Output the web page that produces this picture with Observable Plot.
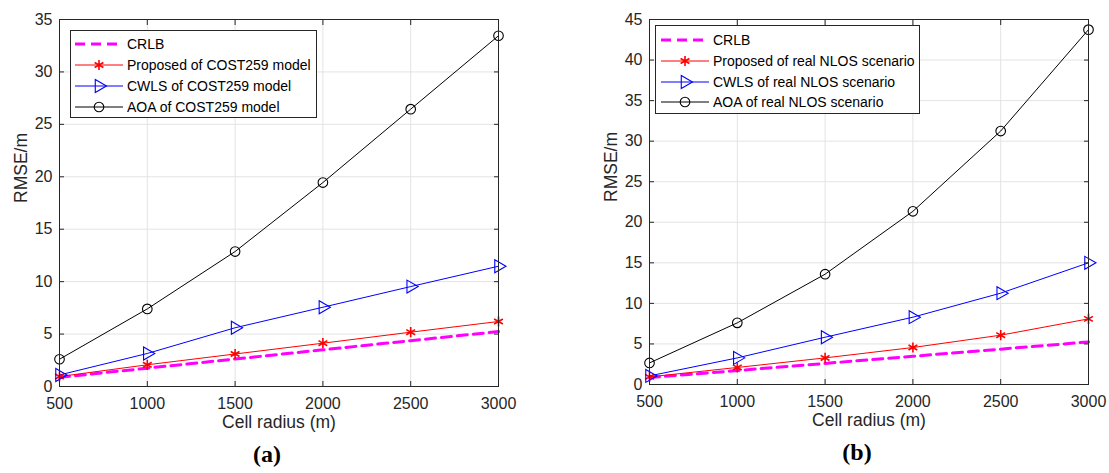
<!DOCTYPE html>
<html>
<head>
<meta charset="utf-8">
<script src="https://cdn.jsdelivr.net/npm/d3@7"></script>
<script src="https://cdn.jsdelivr.net/npm/@observablehq/plot@0.6"></script>
<style>
  html, body { margin: 0; padding: 0; background: #fff; }
  #root { position: relative; width: 1109px; height: 473px; overflow: hidden; font-family: "Liberation Sans", Arial, sans-serif; }
  .panel { position: absolute; top: 0; }
  .legend { position: absolute; background: #fff; border: 1px solid #262626; box-sizing: border-box; font-family: "Liberation Sans", Arial, sans-serif; font-size: 14px; color: #000; }
  .legend .row { position: absolute; left: 0; height: 20px; display: flex; align-items: center; white-space: nowrap; }
  .legend svg { display: block; }
</style>
</head>
<body>
<div id="root"></div>
<script>
// ---- data ----
const radius = [500, 1000, 1500, 2000, 2500, 3000];
const xTicks = [500, 1000, 1500, 2000, 2500, 3000];
const yTicksA = [0, 5, 10, 15, 20, 25, 30, 35];
const yTicksB = [0, 5, 10, 15, 20, 25, 30, 35, 40, 45];

const crlbA = [0.87, 1.75, 2.62, 3.50, 4.37, 5.24];
const propA = [0.95, 2.07, 3.10, 4.13, 5.18, 6.20];
const cwlsA = [1.10, 3.15, 5.60, 7.56, 9.53, 11.47];
const aoaA  = [2.60, 7.40, 12.87, 19.45, 26.45, 33.45];

const crlbB = [0.85, 1.72, 2.60, 3.48, 4.36, 5.25];
const propB = [0.94, 2.10, 3.28, 4.56, 6.08, 8.09];
const cwlsB = [1.06, 3.28, 5.83, 8.30, 11.26, 15.00];
const aoaB  = [2.66, 7.60, 13.60, 21.35, 31.25, 43.75];

const namesA = ["CRLB", "Proposed of COST259 model", "CWLS of COST259 model", "AOA of COST259 model"];
const namesB = ["CRLB", "Proposed of real NLOS scenario", "CWLS of real NLOS scenario", "AOA of real NLOS scenario"];
const panelTags = ["(a)", "(b)"];

// ---- styles ----
const styles = [
  {color: "#ff00ff", width: 3, dash: "10,6", symbol: null},
  {color: "#ff0000", width: 1, dash: null, symbol: "asterisk"},
  {color: "#0000ff", width: 1, dash: null, symbol: "triangle"},
  {color: "#000000", width: 1, dash: null, symbol: "circle"}
];

function toRows(vals) {
  return radius.map((r, i) => ({r, v: vals[i]}));
}

function makePanel({series, yMax, yTicks, tag, width, ml, mr, mt, mb}) {
  const marks = [
    Plot.gridX(xTicks, {stroke: "#e3e3e3", strokeOpacity: 1}),
    Plot.gridY(yTicks, {stroke: "#e3e3e3", strokeOpacity: 1}),
  ];
  series.forEach((vals, k) => {
    const s = styles[k];
    marks.push(Plot.line(toRows(vals), {x: "r", y: "v", stroke: s.color, strokeWidth: s.width, strokeDasharray: s.dash}));
  });
  series.forEach((vals, k) => {
    const s = styles[k];
    if (!s.symbol) return;
    const opts = {x: "r", y: "v", stroke: s.color, fill: "none", strokeWidth: 1.1, symbol: s.symbol};
    if (s.symbol === "triangle") { opts.r = 4.8; opts.rotate = 90; }
    else if (s.symbol === "circle") { opts.r = 4.8; }
    else { opts.r = 4.8; opts.strokeWidth = 1.6; }
    marks.push(Plot.dot(toRows(vals), opts));
  });
  marks.push(
    Plot.frame({stroke: "#262626", strokeWidth: 1}),
    Plot.axisX(xTicks, {anchor: "bottom", tickSize: 0, tickPadding: 11, label: null, fontSize: 16, color: "#262626", tickFormat: d => String(d)}),
    Plot.axisX(xTicks, {anchor: "bottom", tickSize: -5, text: null, label: null, stroke: "#262626"}),
    Plot.axisX(xTicks, {anchor: "top", tickSize: -5, text: null, label: null, stroke: "#262626"}),
    Plot.axisY(yTicks, {anchor: "left", tickSize: 0, tickPadding: 7, label: null, fontSize: 16, color: "#262626", tickFormat: d => String(d)}),
    Plot.axisY(yTicks, {anchor: "left", tickSize: -5, text: null, label: null, stroke: "#262626"}),
    Plot.axisY(yTicks, {anchor: "right", tickSize: -5, text: null, label: null, stroke: "#262626"}),
    Plot.text(["Cell radius (m)"], {frameAnchor: "bottom", dy: 41.5, fontSize: 17.5, fill: "#262626"}),
    Plot.text(["RMSE/m"], {frameAnchor: "left", dx: -38, rotate: -90, fontSize: 17.5, fill: "#262626"}),
    Plot.text([tag], {frameAnchor: "bottom", dy: 75, dx: -12, fontSize: 24, fontWeight: "bold", fontFamily: "Liberation Serif, DejaVu Serif, serif", fill: "#000"})
  );
  return Plot.plot({
    width, height: 473,
    marginLeft: ml, marginRight: mr, marginTop: mt, marginBottom: mb,
    style: {fontFamily: "Liberation Sans, Arial, sans-serif", background: "transparent", overflow: "visible"},
    x: {domain: [500, 3000]},
    y: {domain: [0, yMax]},
    marks
  });
}

function swatch(k) {
  const s = styles[k];
  const w = 52, h = 20, cx = 24, cy = 10;
  let inner = `<line x1="0" y1="${cy}" x2="${w - 4}" y2="${cy}" stroke="${s.color}" stroke-width="${s.width}"${s.dash ? ` stroke-dasharray="10,6"` : ""}/>`;
  if (s.symbol === "asterisk") {
    inner += `<path transform="translate(${cx},${cy})" d="${d3.symbol(d3.symbolAsterisk, Math.PI * 4.8 * 4.8)()}" stroke="${s.color}" stroke-width="1.6" fill="none"/>`;
  } else if (s.symbol === "triangle") {
    inner += `<path transform="translate(${cx},${cy}) rotate(90)" d="${d3.symbol(d3.symbolTriangle, Math.PI * 4.8 * 4.8)()}" stroke="${s.color}" stroke-width="1.1" fill="none"/>`;
  } else if (s.symbol === "circle") {
    inner += `<circle cx="${cx}" cy="${cy}" r="4.8" stroke="${s.color}" stroke-width="1.1" fill="none"/>`;
  }
  return `<svg width="${w}" height="${h}">${inner}</svg>`;
}

function makeLegend(names, box) {
  const div = document.createElement("div");
  div.className = "legend";
  div.style.left = box.left + "px";
  div.style.top = box.top + "px";
  div.style.width = box.width + "px";
  div.style.height = box.height + "px";
  names.forEach((n, k) => {
    const row = document.createElement("div");
    row.className = "row";
    row.style.top = (box.first + k * box.step - 10) + "px";
    row.style.left = box.pad + "px";
    row.innerHTML = swatch(k) + `<span>${n}</span>`;
    div.appendChild(row);
  });
  return div;
}

const root = document.getElementById("root");

const pa = makePanel({series: [crlbA, propA, cwlsA, aoaA], yMax: 35, yTicks: yTicksA, tag: panelTags[0], width: 540, ml: 59, mr: 42, mt: 19, mb: 87});
pa.classList.add("panel");
pa.style.left = "0px";
root.appendChild(pa);

const pb = makePanel({series: [crlbB, propB, cwlsB, aoaB], yMax: 45, yTicks: yTicksB, tag: panelTags[1], width: 519, ml: 59, mr: 21, mt: 19, mb: 89});
pb.classList.add("panel");
pb.style.left = "590px";
root.appendChild(pb);

root.appendChild(makeLegend(namesA, {left: 70, top: 30, width: 247, height: 88, first: 13, step: 21, pad: 4}));
root.appendChild(makeLegend(namesB, {left: 655, top: 25, width: 265, height: 89, first: 14, step: 20.8, pad: 5}));
</script>
</body>
</html>
